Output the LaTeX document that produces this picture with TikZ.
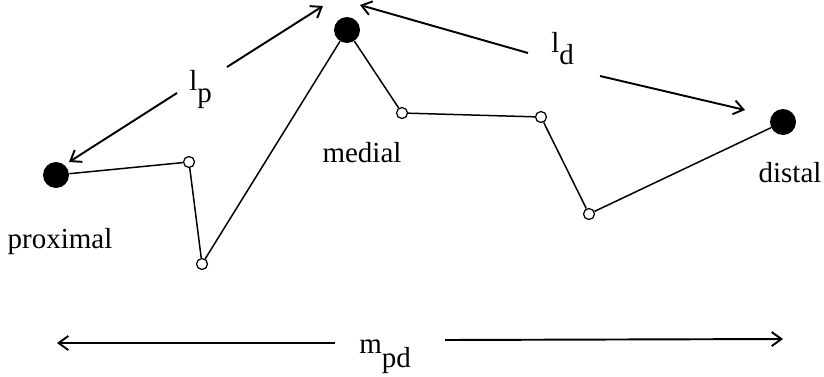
\documentclass[tikz,border=0pt]{standalone}
\usepackage{fontspec}
\setmainfont{Liberation Serif}
\usetikzlibrary{arrows.meta}

\begin{document}
\begin{tikzpicture}
    [x=0.02cm, y=-0.02cm,
    ->-/.style={line width=1.1pt, -{Straight Barb[length=5.5pt, width=8pt, line width=1.1pt]}},
    link/.style={line width=0.85pt},
    bigvertex/.style={inner sep=0pt, circle, fill=black, minimum size=0.52cm},
    vertex/.style={inner sep=0pt, circle, draw, line width=0.7pt, fill=white, minimum size=0.22cm},
    lbl/.style={inner sep=0pt, font=\fontsize{16.5pt}{19pt}\selectfont}]
        \useasboundingbox (0,0) rectangle (824,376);
        % the chain
        \node[bigvertex] (P) at (56,175) {};
        \node[vertex] (P1) at (189,162) {};
        \node[vertex] (P2) at (202,264) {};
        \node[bigvertex] (M) at (347,30) {};
        \node[vertex] (M1) at (402,113) {};
        \node[vertex] (M2) at (541,117) {};
        \node[vertex] (D1) at (589,214) {};
        \node[bigvertex] (D) at (783,122) {};

        \draw[link] (P) -- (P1) -- (P2) -- (M) -- (M1) -- (M2) -- (D1) -- (D);

        \node[lbl, anchor=base] (Ptext) at (60,248) {proximal};
        \node[lbl, anchor=base] (Mtext) at (362,162) {medial};
        \node[lbl, anchor=base] (Dtext) at (790,182) {distal};

        % distances
        \node[lbl, anchor=base west] (lp) at (189,90) {l\raisebox{-7pt}{p}};
        \node[lbl, anchor=base west] (ld) at (551,52) {l\raisebox{-7pt}{d}};
        \node[lbl, anchor=base west] (mpd) at (359,353) {m\raisebox{-8pt}{pd}};

        \coordinate (lp1) at (227,67);
        \coordinate (lp2) at (323,6);
        \coordinate (lp3) at (177,93);
        \coordinate (lp4) at (69,162);
        \coordinate (ld1) at (528,53);
        \coordinate (ld2) at (360,5);
        \coordinate (ld3) at (600,76);
        \coordinate (ld4) at (745,110);
        \coordinate (m1) at (335,343);
        \coordinate (m2) at (57,343);
        \coordinate (m3) at (445,340);
        \coordinate (m4) at (783,339);

        \draw[->-] (lp1) to (lp2);
        \draw[->-] (lp3) to (lp4);
        \draw[->-] (ld1) to (ld2);
        \draw[->-] (ld3) to (ld4);
        \draw[->-] (m1) to (m2);
        \draw[->-] (m3) to (m4);
    \end{tikzpicture}
\end{document}
